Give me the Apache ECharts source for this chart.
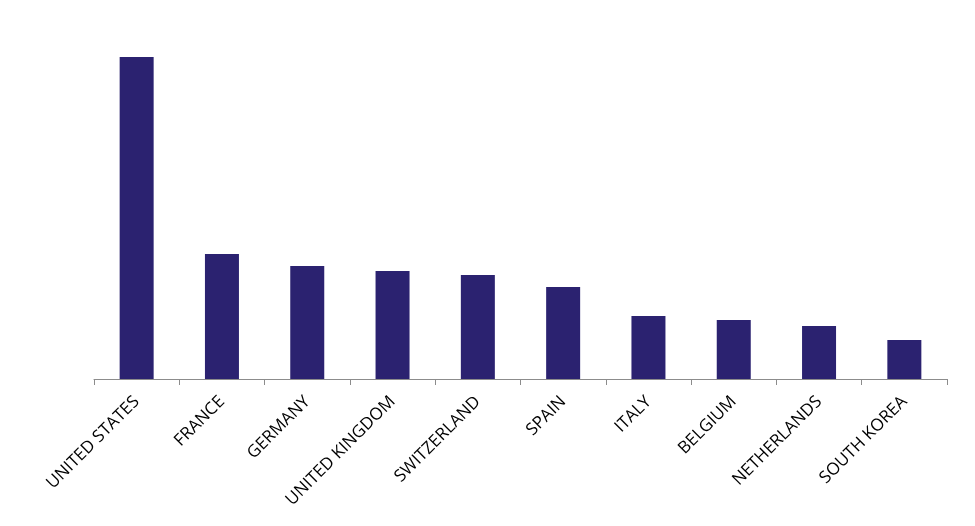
<!DOCTYPE html>
<html>
<head>
<meta charset="utf-8">
<script src="https://cdn.jsdelivr.net/npm/echarts@6/dist/echarts.min.js"></script>
<style>
  html, body { margin: 0; padding: 0; background: #fff; }
  #main { width: 975px; height: 526px; }
</style>
</head>
<body>
<div id="main"></div>
<script>
var countries = ['UNITED STATES', 'FRANCE', 'GERMANY', 'UNITED KINGDOM', 'SWITZERLAND',
  'SPAIN', 'ITALY', 'BELGIUM', 'NETHERLANDS', 'SOUTH KOREA']
var values = [322, 125, 113, 108, 104, 92, 63, 59, 53, 39]

var chartDom = document.getElementById('main')
var myChart = echarts.init(chartDom)

var option = {
  animation: false,
  grid: {
    left: 94,
    right: 28,
    top: 29,
    bottom: 147
  },
  xAxis: {
    type: 'category',
    data: countries,
    axisLine: { lineStyle: { color: '#8c8c8c', width: 1 } },
    axisTick: { show: true, length: 6, lineStyle: { color: '#8c8c8c' } },
    axisLabel: {
      rotate: 45,
      interval: 0,
      margin: 20,
      color: '#000',
      fontFamily: 'Open Sans',
      fontSize: 17
    }
  },
  yAxis: {
    type: 'value',
    min: 0,
    max: 350,
    show: false,
    splitLine: { show: false }
  },
  series: [
    {
      type: 'bar',
      data: values,
      barWidth: 34,
      itemStyle: { color: '#2b2270' }
    }
  ]
}

option && myChart.setOption(option)
</script>
</body>
</html>
